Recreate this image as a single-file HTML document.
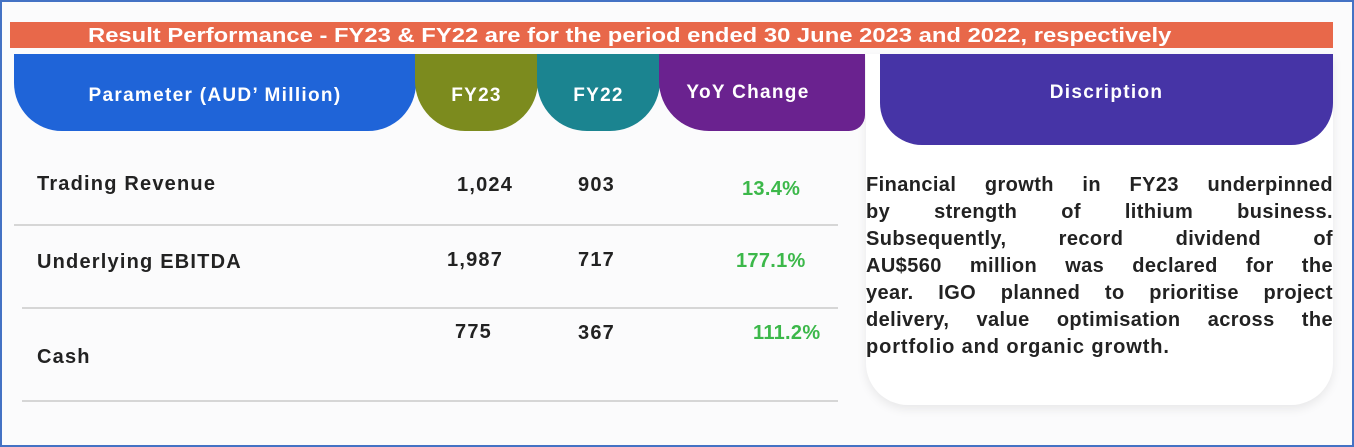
<!DOCTYPE html>
<html><head><style>
body{margin:0;width:1354px;height:447px;overflow:hidden;background:#fff;font-family:"Liberation Sans",sans-serif}
#f{position:absolute;left:0;top:0;width:1350px;height:443px;border:2px solid #4472c4;background:#fbfbfc}
.a{position:absolute}
.h{position:absolute;color:#fff;font-weight:bold;font-size:19px;display:flex;align-items:center;justify-content:center;box-sizing:border-box;letter-spacing:1.3px}
.t{position:absolute;font-weight:bold;font-size:20px;color:#222;letter-spacing:1.2px}
.g{position:absolute;font-weight:bold;font-size:20px;color:#3cb84a;letter-spacing:0.3px}
.l{position:absolute;height:2px;background:#d6d6d6}
.d{position:absolute;left:866px;width:467px;font-weight:bold;font-size:20px;color:#222;text-align:justify;text-align-last:justify;white-space:nowrap;letter-spacing:0.4px}
</style></head><body>
<div id="f"></div>
<div class="a" style="left:866px;top:54px;width:467px;height:351px;background:#fff;border-radius:0 0 42px 42px;box-shadow:0 4px 10px rgba(0,0,0,0.08)"></div>
<div class="a" style="left:10px;top:22px;width:1323px;height:26px;background:#e8684a"></div>
<div class="a" style="left:88px;top:22px;height:26px;color:#fff;font-weight:bold;font-size:20px;line-height:29px;white-space:nowrap;transform:scaleX(1.19);transform-origin:0 0">Result Performance - FY23 &amp; FY22 are for the period ended 30 June 2023 and 2022, respectively</div>
<div class="h" style="left:14px;top:54px;width:402px;height:77px;background:#1f64d8;border-radius:0 0 48px 48px;padding-top:6px">Parameter (AUD’ Million)</div>
<div class="h" style="left:415px;top:54px;width:123px;height:77px;background:#7c8b1e;border-radius:0 0 50px 50px;padding-top:6px">FY23</div>
<div class="h" style="left:537px;top:54px;width:123px;height:77px;background:#1b8490;border-radius:0 0 50px 50px;padding-top:6px">FY22</div>
<div class="h" style="left:659px;top:54px;width:206px;height:77px;background:#6a228f;border-radius:0 0 16px 50px;padding-top:0;padding-right:28px">YoY Change</div>
<div class="h" style="left:880px;top:54px;width:453px;height:91px;background:#4634a6;border-radius:0 0 42px 42px;padding-bottom:13px">Discription</div>
<div class="t" style="left:37px;top:173px">Trading Revenue</div>
<div class="t" style="left:457px;top:174px">1,024</div>
<div class="t" style="left:578px;top:174px">903</div>
<div class="g" style="left:742px;top:178px">13.4%</div>
<div class="l" style="left:14px;top:224px;width:824px"></div>
<div class="t" style="left:37px;top:251px">Underlying EBITDA</div>
<div class="t" style="left:447px;top:249px">1,987</div>
<div class="t" style="left:578px;top:249px">717</div>
<div class="g" style="left:736px;top:250px">177.1%</div>
<div class="l" style="left:22px;top:307px;width:816px"></div>
<div class="t" style="left:37px;top:346px">Cash</div>
<div class="t" style="left:455px;top:321px">775</div>
<div class="t" style="left:578px;top:322px">367</div>
<div class="g" style="left:753px;top:322px">111.2%</div>
<div class="l" style="left:22px;top:400px;width:816px"></div>
<div class="d" style="top:174px">Financial growth in FY23 underpinned</div>
<div class="d" style="top:201px">by strength of lithium business.</div>
<div class="d" style="top:228px">Subsequently, record dividend of</div>
<div class="d" style="top:255px">AU$560 million was declared for the</div>
<div class="d" style="top:282px">year. IGO planned to prioritise project</div>
<div class="d" style="top:309px">delivery, value optimisation across the</div>
<div class="d" style="top:336px;text-align:left;text-align-last:left;letter-spacing:0.9px">portfolio and organic growth.</div>
</body></html>
